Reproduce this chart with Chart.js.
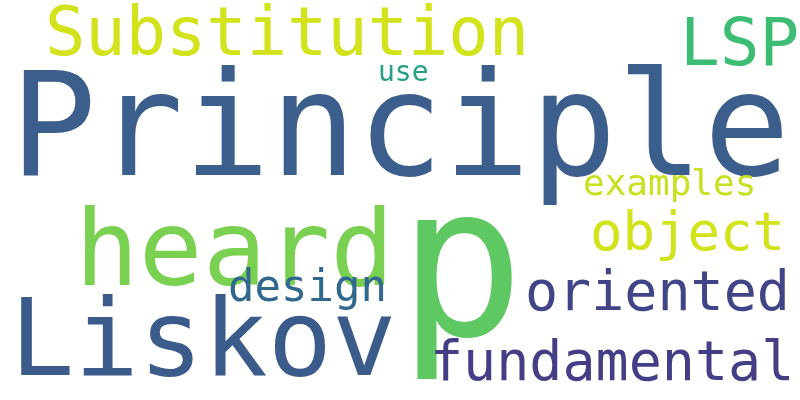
<!DOCTYPE html>
<html>
<head>
<meta charset="utf-8">
<script src="https://cdn.jsdelivr.net/npm/chart.js@4/dist/chart.umd.min.js"></script>
<style>
  html, body { margin: 0; padding: 0; background: #fff; }
  #wrap { width: 800px; height: 400px; }
</style>
</head>
<body>
<div id="wrap"><canvas id="c"></canvas></div>
<script>
// word cloud data: word, weight (font px), colour, anchor (left x, baseline y)
const words = ['Principle', 'Substitution', 'LSP', 'use', 'heard', 'p', 'examples', 'object', 'design', 'oriented', 'Liskov', 'fundamental'];
const sizes = [144, 67, 66, 28, 106, 210, 36, 54, 44, 55, 107, 55];
const colors = ['#3b5e8c', '#d2e21b', '#3dbc74', '#26a086', '#7ad151', '#5ec962', '#c8e020', '#d2e21b', '#31688e', '#414487', '#3b5b8b', '#433e85'];
const xs = [10, 45, 680, 378, 75, 398, 583, 590, 228, 525, 10, 430];
const ys = [175, 55, 65, 81, 285, 335, 195, 250, 301, 310, 375, 380];

const wordPlugin = {
  id: 'words',
  afterDatasetsDraw(chart) {
    const { ctx, scales } = chart;
    ctx.save();
    ctx.textAlign = 'left';
    ctx.textBaseline = 'alphabetic';
    words.forEach((w, i) => {
      ctx.font = `${sizes[i]}px "DejaVu Sans Mono"`;
      ctx.fillStyle = colors[i];
      ctx.fillText(w, scales.x.getPixelForValue(xs[i]), scales.y.getPixelForValue(ys[i]));
    });
    ctx.restore();
  },
};

new Chart(document.getElementById('c'), {
  type: 'scatter',
  data: {
    datasets: [{
      data: words.map((w, i) => ({ x: xs[i], y: ys[i] })),
      pointRadius: 0,
    }],
  },
  options: {
    responsive: true,
    maintainAspectRatio: false,
    animation: false,
    layout: { padding: 0 },
    plugins: { legend: { display: false }, tooltip: { enabled: false } },
    scales: {
      x: { type: 'linear', min: 0, max: 800, display: false },
      y: { type: 'linear', min: 0, max: 400, reverse: true, display: false },
    },
  },
  plugins: [wordPlugin],
});
</script>
</body>
</html>
